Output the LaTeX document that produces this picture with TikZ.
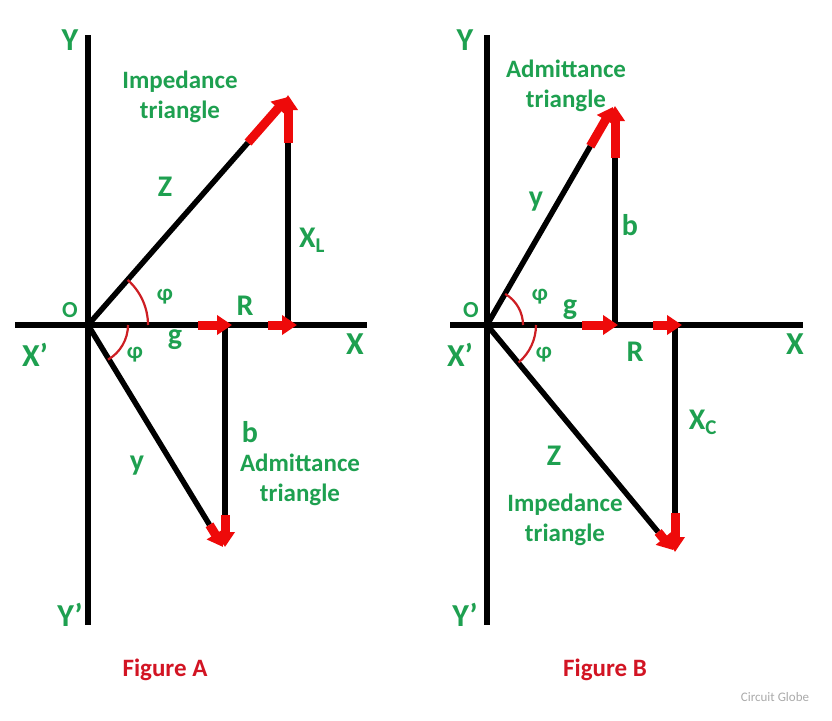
\documentclass[tikz,border=0pt]{standalone}
\usepackage{fontspec}
\setmainfont{Carlito}
\usetikzlibrary{calc,arrows.meta,positioning}
\definecolor{lblgreen}{RGB}{30,160,80}
\definecolor{arrred}{RGB}{238,10,10}
\definecolor{arcred}{RGB}{205,30,35}
\definecolor{capred}{RGB}{210,20,35}
\definecolor{markgray}{RGB}{170,170,170}

\begin{document}
\begin{tikzpicture}[x=1pt,y=-1pt,
  line/.style={line width=5.5pt},
  redarr/.style={draw=arrred,line width=9pt,-{Triangle[width=19pt,length=15pt]}},
  ang/.style={draw=arcred,line width=2.2pt},
  lbl/.style={text=lblgreen,inner sep=0pt,align=center,
              font=\bfseries\fontsize{25}{30}\selectfont},
  letter/.style={lbl,font=\bfseries\fontsize{30}{32}\selectfont},
  axlbl/.style={lbl,font=\bfseries\fontsize{32}{34}\selectfont},
  small/.style={lbl,font=\bfseries\fontsize{23}{26}\selectfont},
  figcap/.style={text=capred,inner sep=0pt,font=\bfseries\fontsize{25}{30}\selectfont}]
  \useasboundingbox (0,0) rectangle (832,720);

  % Figure A
  \coordinate (OA)  at (88,325);
  \coordinate (YtA) at (88,35);   \coordinate (YbA) at (88,625);
  \coordinate (XlA) at (15,325);  \coordinate (XrA) at (367,325);
  \coordinate (PA)  at (288,97);  \coordinate (RA)  at (288,325);
  \coordinate (QA)  at (223,547); \coordinate (GA)  at (225,325);
  \coordinate (ZsA) at ($(OA)!0.8!(PA)$);
  \coordinate (LsA) at (288,143);
  \coordinate (ysA) at ($(OA)!0.9!(QA)$);
  \coordinate (bsA) at (225,515);

  \path[line]
        (YtA) edge (YbA)
        (XlA) edge (XrA)
        (OA)  edge (ZsA)
        (RA)  edge (LsA)
        (OA)  edge (ysA)
        (GA)  edge (bsA);
  \draw[redarr] (ZsA) -- (PA);
  \draw[redarr] (LsA) -- (288,95);
  \draw[redarr] (ysA) -- (QA);
  \draw[redarr] (bsA) -- (225,547);
  \draw[redarr] (198,325) -- (232,325);
  \draw[redarr] (268,325) -- (297,325);
  \draw[ang] ([xshift=60pt]OA) arc[start angle=0,end angle=48.7,radius=60pt];
  \draw[ang] ([xshift=40pt]OA) arc[start angle=0,end angle=-60,radius=40pt];

  \node[axlbl]  (tYA)  at (70,40)   {Y};
  \node[axlbl]  (tYbA) at (70,615)  {Y’};
  \node[axlbl]  (tXlA) at (35,355)  {X’};
  \node[axlbl]  (tXrA) at (355,344) {X};
  \node[small]  (tOA)  at (70,310)  {O};
  \node[lbl]    (impA) at (180,97)  {Impedance\\triangle};
  \node[letter] (tZA)  at (165,187) {Z};
  \node[letter] (tXL)  at (312,240) {X\textsubscript{L}};
  \node[small]  (phA1) at (165,297) {φ};
  \node[small]  (phA2) at (135,355) {φ};
  \node[letter] (tRA)  at (245,306) {R};
  \node[letter] (tgA)  at (175,340) {g};
  \node[letter] (tbA)  at (250,432) {b};
  \node[letter] (tyA)  at (137,466) {y};
  \node[lbl]    (admA) at (300,480) {Admittance\\triangle};
  \node[figcap] (figA) at (165,670) {Figure A};

  % Figure B
  \coordinate (OB)  at (487,325);
  \coordinate (YtB) at (487,35);  \coordinate (YbB) at (487,625);
  \coordinate (XlB) at (450,325); \coordinate (XrB) at (803,325);
  \coordinate (PB)  at (613,107); \coordinate (GB)  at (615,325);
  \coordinate (QB)  at (673,550); \coordinate (RB)  at (675,325);
  \coordinate (ysB) at ($(OB)!0.82!(PB)$);
  \coordinate (bsB) at (615,158);
  \coordinate (ZsB) at ($(OB)!0.92!(QB)$);
  \coordinate (CsB) at (675,513);

  \path[line]
        (YtB) edge (YbB)
        (XlB) edge (XrB)
        (OB)  edge (ysB)
        (GB)  edge (bsB)
        (OB)  edge (ZsB)
        (RB)  edge (CsB);
  \draw[redarr] (ysB) -- (PB);
  \draw[redarr] (bsB) -- (615,106);
  \draw[redarr] (ZsB) -- (QB);
  \draw[redarr] (CsB) -- (675,552);
  \draw[redarr] (582,325) -- (618,325);
  \draw[redarr] (653,325) -- (682,325);
  \draw[ang] ([xshift=36pt]OB) arc[start angle=0,end angle=59.7,radius=36pt];
  \draw[ang] ([xshift=49pt]OB) arc[start angle=0,end angle=-49.9,radius=49pt];

  \node[axlbl]  (tYB)  at (465,40)  {Y};
  \node[axlbl]  (tYbB) at (465,615) {Y’};
  \node[axlbl]  (tXlB) at (460,355) {X’};
  \node[axlbl]  (tXrB) at (795,344) {X};
  \node[small]  (tOB)  at (471,310) {O};
  \node[lbl]    (admB) at (566,86)  {Admittance\\triangle};
  \node[letter] (tyB)  at (536,202) {y};
  \node[letter] (tbB)  at (630,225) {b};
  \node[small]  (phB1) at (540,297) {φ};
  \node[letter] (tgB)  at (570,310) {g};
  \node[small]  (phB2) at (544,355) {φ};
  \node[letter] (tRB)  at (635,352) {R};
  \node[letter] (tXC)  at (703,422) {X\textsubscript{C}};
  \node[letter] (tZB)  at (554,456) {Z};
  \node[lbl]    (impB) at (565,520) {Impedance\\triangle};
  \node[figcap] (figB) at (605,670) {Figure B};

  \node[text=markgray,inner sep=0pt,font=\fontsize{13}{15}\selectfont]
        (mark) at (775,697) {Circuit Globe};
\end{tikzpicture}
\end{document}
